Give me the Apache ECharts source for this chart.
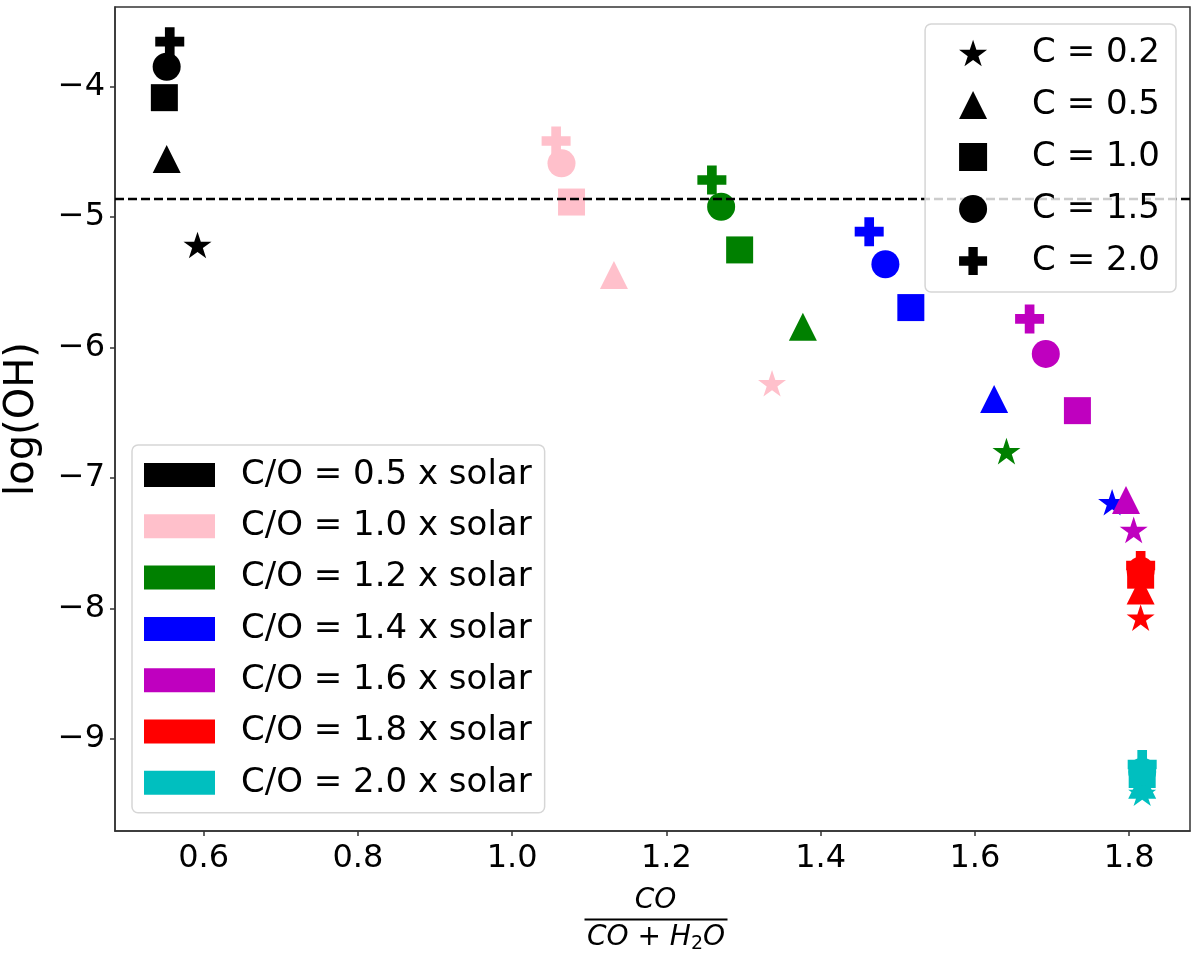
<!DOCTYPE html>
<html>
<head>
<meta charset="utf-8">
<script src="https://cdn.jsdelivr.net/npm/echarts@6/dist/echarts.min.js"></script>
<style>
  html, body { margin: 0; padding: 0; background: #fff; }
  #container { width: 1200px; height: 956px; }
</style>
</head>
<body>
<div id="container"></div>
<script>
var dom = document.getElementById("container");
var myChart = echarts.init(dom, null, { renderer: 'canvas' });

// C/O groups (colour legend)
var coLabels = ['C/O = 0.5 x solar', 'C/O = 1.0 x solar', 'C/O = 1.2 x solar', 'C/O = 1.4 x solar',
  'C/O = 1.6 x solar', 'C/O = 1.8 x solar', 'C/O = 2.0 x solar'];
var coColors = ['#000000', '#ffc0cb', '#008000', '#0000ff', '#bf00bf', '#ff0000', '#00bfbf'];

// C values (marker legend), in order: 0.2, 0.5, 1.0, 1.5, 2.0
var cLabels = ['C = 0.2', 'C = 0.5', 'C = 1.0', 'C = 1.5', 'C = 2.0'];

// x = CO/(CO+H2O), y = log(OH), one entry per C value
var xBlack   = [0.592, 0.552, 0.549, 0.552, 0.556];
var yBlack   = [-5.213, -4.554, -4.084, -3.847, -3.655];
var xPink    = [1.337, 1.132, 1.077, 1.064, 1.057];
var yPink    = [-6.273, -5.443, -4.884, -4.587, -4.416];
var xGreen   = [1.641, 1.377, 1.295, 1.271, 1.259];
var yGreen   = [-6.793, -5.839, -5.251, -4.920, -4.715];
var xBlue    = [1.778, 1.625, 1.517, 1.484, 1.463];
var yBlue    = [-7.185, -6.393, -5.693, -5.361, -5.111];
var xMagenta = [1.806, 1.796, 1.733, 1.692, 1.671];
var yMagenta = [-7.397, -7.167, -6.483, -6.048, -5.780];
var xRed     = [1.815, 1.815, 1.815, 1.815, 1.815];
var yRed     = [-8.069, -7.862, -7.744, -7.711, -7.670];
var xCyan    = [1.817, 1.817, 1.817, 1.817, 1.817];
var yCyan    = [-9.412, -9.350, -9.272, -9.250, -9.195];

var groupsX = [xBlack, xPink, xGreen, xBlue, xMagenta, xRed, xCyan];
var groupsY = [yBlack, yPink, yGreen, yBlue, yMagenta, yRed, yCyan];

var dashY = -4.861;
var xTicks = [0.6, 0.8, 1.0, 1.2, 1.4, 1.6, 1.8];
var yTicks = [-9, -8, -7, -6, -5, -4];

function starPath() {
  var pts = [];
  for (var k = 0; k < 10; k++) {
    var a = (-90 + k * 36) * Math.PI / 180;
    var r = k % 2 ? 0.381966 : 1;
    pts.push((r * Math.cos(a)).toFixed(4) + ',' + (r * Math.sin(a)).toFixed(4));
  }
  return 'path://M' + pts.join('L') + 'Z';
}
var plusPath = 'path://M-1,-3L1,-3L1,-1L3,-1L3,1L1,1L1,3L-1,3L-1,1L-3,1L-3,-1L-1,-1Z';
var shapes = [starPath(), 'triangle', 'rect', 'circle', plusPath];
var shapeSizes = [28, 28, 27, 28, 29];

var font = 'DejaVu Sans';

var series = groupsX.map(function (xs, i) {
  var s = {
    type: 'scatter',
    name: coLabels[i],
    symbolKeepAspect: true,
    itemStyle: { color: coColors[i], opacity: 1 },
    emphasis: { disabled: true },
    silent: true,
    data: xs.map(function (x, j) {
      return { value: [x, groupsY[i][j]], symbol: shapes[j], symbolSize: shapeSizes[j] };
    })
  };
  if (i === 0) {
    s.markLine = {
      silent: true,
      symbol: ['none', 'none'],
      label: { show: false },
      lineStyle: { color: '#000', type: [9, 4], width: 2.4 },
      emphasis: { disabled: true },
      data: [{ yAxis: dashY }]
    };
  }
  return s;
});

// empty series only to drive the marker legend
cLabels.forEach(function (name, j) {
  series.push({
    type: 'scatter', name: name, data: [],
    symbol: shapes[j], itemStyle: { color: '#000', opacity: 1 }
  });
});

var option = {
  animation: false,
  grid: {
    left: 115, right: 10, top: 7, bottom: 125,
    show: true, borderColor: '#333', borderWidth: 1.5,
    outerBoundsMode: 'none'
  },
  xAxis: {
    type: 'value',
    min: 0.485, max: 1.879,
    axisLine: { show: true, onZero: false, lineStyle: { color: '#333', width: 1.5 } },
    axisTick: { show: true, customValues: xTicks, length: 5, lineStyle: { color: '#333', width: 1.5 } },
    axisLabel: {
      customValues: xTicks, margin: 12,
      fontFamily: font, fontSize: 32, color: '#000',
      formatter: function (v) { return v.toFixed(1); }
    },
    splitLine: { show: false }
  },
  yAxis: {
    type: 'value',
    min: -9.705, max: -3.389,
    name: 'log(OH)', nameLocation: 'middle', nameGap: 72,
    nameTextStyle: { fontFamily: font, fontSize: 40, color: '#000' },
    axisLine: { show: true, onZero: false, lineStyle: { color: '#333', width: 1.5 } },
    axisTick: { show: true, customValues: yTicks, length: 5, lineStyle: { color: '#333', width: 1.5 } },
    axisLabel: {
      customValues: yTicks, margin: 10,
      fontFamily: font, fontSize: 32, color: '#000',
      formatter: function (v) { return (v < 0 ? '\u2212' : '') + Math.abs(v); }
    },
    splitLine: { show: false }
  },
  legend: [{
    z: 10,
    selectedMode: false,
    orient: 'vertical',
    left: 132, top: 445,
    padding: [13, 13, 13, 12],
    itemWidth: 71, itemHeight: 24, itemGap: 17.3,
    icon: 'rect',
    backgroundColor: 'rgba(255,255,255,0.8)',
    borderColor: '#d6d6d6', borderWidth: 1.5, borderRadius: 6,
    textStyle: { fontFamily: font, fontSize: 34, lineHeight: 34, color: '#000', padding: [0, 0, 0, 21] },
    data: coLabels.map(function (n) { return { name: n, icon: 'rect' }; })
  }, {
    z: 10,
    selectedMode: false,
    orient: 'vertical',
    right: 24, top: 24,
    padding: [12, 16, 14, 34],
    itemWidth: 28, itemHeight: 28, itemGap: 18,
    backgroundColor: 'rgba(255,255,255,0.8)',
    borderColor: '#d6d6d6', borderWidth: 1.5, borderRadius: 6,
    textStyle: { fontFamily: font, fontSize: 34, lineHeight: 34, color: '#000', padding: [0, 0, 0, 40] },
    data: cLabels.map(function (n, j) { return { name: n, icon: shapes[j], itemStyle: { color: '#000' } }; })
  }],
  graphic: [{
    type: 'group',
    left: 582, top: 887,
    children: [{
      type: 'text',
      style: {
        text: 'CO', x: 71, y: 13, align: 'center', verticalAlign: 'middle',
        font: 'italic 28px "DejaVu Sans"', fill: '#000'
      }
    }, {
      type: 'line',
      shape: { x1: 0, y1: 31.5, x2: 143, y2: 31.5 },
      style: { stroke: '#000', lineWidth: 2 }
    }, {
      type: 'text',
      style: {
        text: '{i|CO + H}{s|2}{i|O}', x: 71.5, y: 50, align: 'center', verticalAlign: 'middle',
        fill: '#000',
        rich: {
          i: { fontFamily: font, fontStyle: 'italic', fontSize: 28, fill: '#000' },
          s: { fontFamily: font, fontSize: 19, fill: '#000', padding: [13, 0, 0, 0] }
        }
      }
    }]
  }],
  series: series
};

if (option && typeof option === 'object') {
  myChart.setOption(option);
}
</script>
</body>
</html>
